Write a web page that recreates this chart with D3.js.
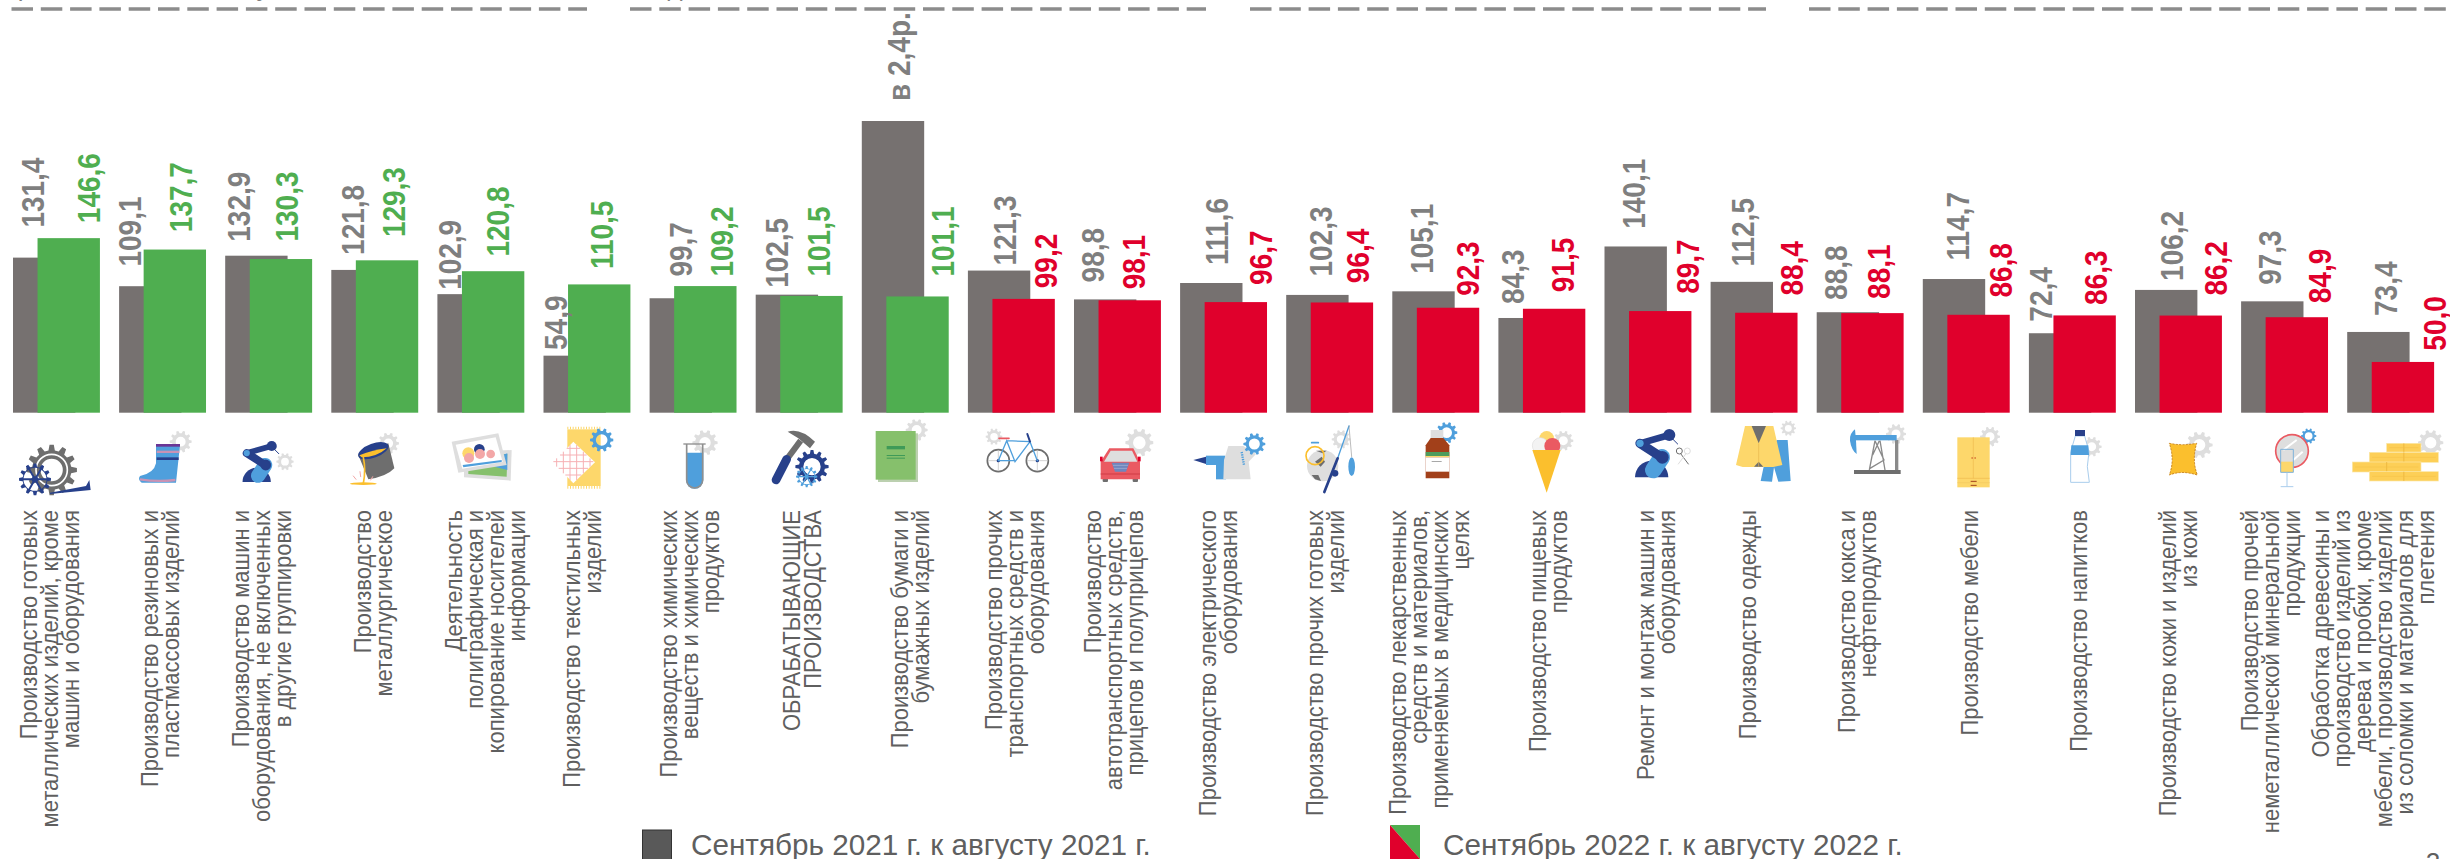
<!DOCTYPE html>
<html lang="ru">
<head>
<meta charset="utf-8">
<script src="https://cdn.jsdelivr.net/npm/d3@7"></script>
<style>
  html, body { margin: 0; padding: 0; background: #fff; overflow: hidden; }
  svg { display: block; font-family: "Liberation Sans", Arial, sans-serif; }
</style>
</head>
<body>
<div id="chart"></div>
<script>
// --- data ---
const categories = [
  ['Производство готовых', 'металлических изделий, кроме', 'машин и оборудования'],
  ['Производство резиновых и', 'пластмассовых изделий'],
  ['Производство машин и', 'оборудования, не включенных', 'в другие группировки'],
  ['Производство', 'металлургическое'],
  ['Деятельность', 'полиграфическая и', 'копирование носителей', 'информации'],
  ['Производство текстильных', 'изделий'],
  ['Производство химических', 'веществ и химических', 'продуктов'],
  ['ОБРАБАТЫВАЮЩИЕ', 'ПРОИЗВОДСТВА'],
  ['Производство бумаги и', 'бумажных изделий'],
  ['Производство прочих', 'транспортных средств и', 'оборудования'],
  ['Производство', 'автотранспортных средств,', 'прицепов и полуприцепов'],
  ['Производство электрического', 'оборудования'],
  ['Производство прочих готовых', 'изделий'],
  ['Производство лекарственных', 'средств и материалов,', 'применяемых в медицинских', 'целях'],
  ['Производство пищевых', 'продуктов'],
  ['Ремонт и монтаж машин и', 'оборудования'],
  ['Производство одежды'],
  ['Производство кокса и', 'нефтепродуктов'],
  ['Производство мебели'],
  ['Производство напитков'],
  ['Производство кожи и изделий', 'из кожи'],
  ['Производство прочей', 'неметаллической минеральной', 'продукции'],
  ['Обработка древесины и', 'производство изделий из', 'дерева и пробки, кроме', 'мебели, производство изделий', 'из соломки и материалов для', 'плетения']
];
const sep2021 = [131.4, 109.1, 132.9, 121.8, 102.9, 54.9, 99.7, 102.5, 238, 121.3, 98.8, 111.6, 102.3, 105.1, 84.3, 140.1, 112.5, 88.8, 114.7, 72.4, 106.2, 97.3, 73.4];
const sep2022 = [146.6, 137.7, 130.3, 129.3, 120.8, 110.5, 109.2, 101.5, 101.1, 99.2, 98.1, 96.7, 96.4, 92.3, 91.5, 89.7, 88.4, 88.1, 86.8, 86.3, 86.2, 84.9, 50.0];
const specialLabels = { 8: 'в 2,4р.' };
const legendLabels = ['Сентябрь 2021 г. к августу 2021 г.', 'Сентябрь 2022 г. к августу 2022 г.'];

// hand placed labels, as in the original: x from the start of the band, gap above the bar
const prevLabelDx  = [19.4, 10, 12.8, 20.7, 12.4, 11.9, 30.4, 21, 36.7, 36.7, 18, 36, 34.3, 29.2, 13.6, 28.5, 31.8, 18.8, 34.2, 11.7, 36, 27.9, 38.5];
const prevLabelGap = [30, 19.7, 14, 15, 4.3, 5.7, 21.7, 6.8, 20, 5, 17, 18, 18.4, 17.5, 14, 17.7, 15.3, 12.3, 18.5, 11.6, 9, 16.5, 16];
const currLabelDx  = [74.9, 61.3, 61.4, 62, 59.5, 58, 72.2, 63, 80.1, 77.5, 59.8, 80.3, 71.5, 75.2, 64.3, 83, 80.4, 61.7, 77.5, 66.6, 80.8, 78.2, 87.2];
const currLabelGap = [15, 17.4, 17.5, 23.2, 14.7, 15.3, 9.5, 19.4, 20, 10.7, 11, 17.2, 19.3, 11.9, 16.6, 17.2, 17.2, 14.2, 17.2, 10.5, 20, 14, 11.3];
const categoryDx   = [36.7, 40.4, 35.8, 42.1, 47.9, 38, 39.4, 45.8, 48.2, 46.7, 39, 37.4, 38.3, 37, 49.6, 51.6, 37, 40.3, 46.2, 49.8, 43, 29.6, 25.5];

const WIDTH = 2450, HEIGHT = 859;
const GRAY = '#767170', GREEN = '#4fae50', RED = '#e0002c';
const GRAY_TEXT = '#7f7f7f', LABEL_TEXT = '#5f5f5f';
const NAVY = '#27408b', BLUE = '#4f9fdc', LIGHT = '#dedede', DARK = '#6e6e6e';
const YELLOW = '#fdd76b', AMBER = '#fbbf2d', LEAF = '#86c06c', ROSE = '#ea5a62', BROWN = '#a2401a';

const svg = d3.select('#chart').append('svg').attr('width', WIDTH).attr('height', HEIGHT);

const x = d3.scaleBand().domain(d3.range(categories.length)).range([13, 2433.6]).paddingInner(0.1857).paddingOuter(0);
const y = d3.scaleLinear().domain([10.4, 238]).range([412.7, 121]);
const barW = x.bandwidth() * 0.722;
const shift = x.bandwidth() * 0.284;
const fmt = v => d3.format('.1f')(v).replace('.', ',');

// --- dashed header rules ---
const ruleSpans = [[11.5, 587], [630, 1206], [1250, 1766], [1809, 2450]];
svg.selectAll('.rule').data(ruleSpans).join('line').attr('class', 'rule')
  .attr('x1', d => d[0]).attr('x2', d => d[1]).attr('y1', 9).attr('y2', 9)
  .attr('stroke', '#8c8c8c').attr('stroke-width', 3.5).attr('stroke-dasharray', '21.5 7.8');

// descenders of the header text that is cut off by the page edge
svg.selectAll('.cut').data([[25, 'р'], [263, 'у'], [675, 'д']]).join('text').attr('class', 'cut')
  .attr('x', d => d[0]).attr('y', -4).attr('text-anchor', 'middle')
  .attr('font-size', 26).attr('fill', GRAY_TEXT).text(d => d[1]);

// --- bars ---
svg.selectAll('.prev').data(sep2021).join('rect').attr('class', 'prev')
  .attr('x', (d, i) => x(i)).attr('width', barW)
  .attr('y', d => y(d)).attr('height', d => y.range()[0] - y(d))
  .attr('fill', GRAY);

svg.selectAll('.curr').data(sep2022).join('rect').attr('class', 'curr')
  .attr('x', (d, i) => x(i) + shift).attr('width', barW)
  .attr('y', d => y(d)).attr('height', d => y.range()[0] - y(d))
  .attr('fill', d => d >= 100 ? GREEN : RED);

// --- value labels ---
function valueLabels(cls, values, dx, gap, color, text) {
  svg.selectAll('.' + cls).data(values).join('text').attr('class', cls)
    .attr('transform', (d, i) => `translate(${x(i) + dx[i]},${y(d) - gap[i]}) rotate(-90) scale(1,1.15)`)
    .attr('dy', '.36em')
    .attr('font-size', 28).attr('font-weight', 700)
    .attr('fill', color).text(text);
}
valueLabels('prev-label', sep2021, prevLabelDx, prevLabelGap, GRAY_TEXT, (d, i) => specialLabels[i] || fmt(d));
valueLabels('curr-label', sep2022, currLabelDx, currLabelGap, d => d >= 100 ? GREEN : RED, d => fmt(d));

// --- category labels ---
const cat = svg.selectAll('.cat').data(categories).join('g').attr('class', 'cat')
  .attr('transform', (d, i) => `translate(${x(i) + categoryDx[i]},510) rotate(-90) scale(1,1.08)`);
cat.selectAll('text').data(d => d.map((t, j) => ({ t, off: (j - (d.length - 1) / 2) * 19.45 }))).join('text')
  .attr('y', d => d.off).attr('dy', '.36em')
  .attr('text-anchor', 'end').attr('font-size', 22).attr('fill', LABEL_TEXT)
  .text(d => d.t);

// --- icons, drawn in 3x units, one layer per strip ---
function gear(g, cx, cy, r, color, hole = 0.45, teeth = 10) {
  const pts = [];
  for (let k = 0; k < teeth; k++) {
    const a = k / teeth * 2 * Math.PI, w = Math.PI / teeth;
    [[-0.62, 0.78], [-0.32, 1], [0.32, 1], [0.62, 0.78]].forEach(([t, rr]) => {
      const b = a + t * w;
      pts.push([cx + Math.cos(b) * r * rr, cy + Math.sin(b) * r * rr]);
    });
  }
  const h = r * hole;
  const d = 'M' + pts.map(p => p.join(',')).join('L') + 'Z'
    + `M${cx - h},${cy}a${h},${h} 0 1,0 ${2 * h},0a${h},${h} 0 1,0 ${-2 * h},0Z`;
  return g.append('path').attr('d', d).attr('fill', color).attr('fill-rule', 'evenodd');
}
const layer = off => svg.append('g').attr('transform', `translate(${off},420) scale(${1 / 3})`);
const rect = (g, a, b, w, h, fill, rx = 0) => g.append('rect').attr('x', a).attr('y', b).attr('width', w).attr('height', h).attr('fill', fill).attr('rx', rx);
const circ = (g, a, b, r, fill) => g.append('circle').attr('cx', a).attr('cy', b).attr('r', r).attr('fill', fill);
const path = (g, d, fill) => g.append('path').attr('d', d).attr('fill', fill);
const seg = (g, d, stroke, w, cap = 'round') => g.append('path').attr('d', d).attr('fill', 'none').attr('stroke', stroke).attr('stroke-width', w).attr('stroke-linecap', cap);

function spokedGear(g, cx, cy, r, color) {
  gear(g, cx, cy, r, color, 0.72, 12);
  d3.range(6).forEach(k => {
    const a = k * Math.PI / 3;
    seg(g, `M${cx},${cy}L${cx + Math.cos(a) * r * 0.75},${cy + Math.sin(a) * r * 0.75}`, color, r * 0.12);
  });
  circ(g, cx, cy, r * 0.2, color);
}
function robot(g, k, ox, oy) {
  const p = (a, b) => `${ox + a * k},${oy + b * k}`;
  path(g, `M${p(-50, 0)}A${50 * k},${50 * k} 0 0,1 ${p(50, 0)}Z`, NAVY);
  seg(g, `M${p(5, -22)}L${p(30, -60)}`, BLUE, 50 * k);
  circ(g, ox + 32 * k, oy - 60 * k, 19 * k, NAVY);
  seg(g, `M${p(-35, -102)}L${p(30, -60)}`, NAVY, 28 * k);
  seg(g, `M${p(-35, -102)}L${p(53, -127)}`, NAVY, 20 * k);
  circ(g, ox + 53 * k, oy - 127 * k, 18 * k, NAVY);
  circ(g, ox - 35 * k, oy - 102 * k, 11 * k, BLUE);
  seg(g, `M${p(63, -115)}L${p(78, -100)}`, NAVY, 3);
}

const s0 = layer(0), s1 = layer(520), s2 = layer(1040), s3 = layer(1560), s4 = layer(2080);

// metal products
gear(s0, 155, 150, 76, DARK, 0.44, 12);
s0.append('circle').attr('cx', 155).attr('cy', 150).attr('r', 47).attr('fill', 'none').attr('stroke', '#fff').attr('stroke-width', 5);
path(s0, 'M150,218L258,198L268,180L272,210L150,222Z', NAVY);
spokedGear(s0, 105, 178, 48, NAVY);
// boot
gear(s0, 542, 65, 33, LIGHT);
path(s0, 'M468,75L540,75L528,188L425,188Q412,178 420,168Q462,160 468,130Z', BLUE);
rect(s0, 468, 72, 72, 8, '#6a3595');
rect(s0, 470, 92, 68, 7, '#c993b5');
rect(s0, 470, 112, 66, 8, NAVY);
seg(s0, 'M420,178Q470,186 526,180', '#c993b5', 7, 'butt');
// robot arm
gear(s0, 855, 125, 26, LIGHT);
robot(s0, 0.85, 770, 186);
// bucket
gear(s0, 1165, 70, 32, LIGHT);
path(s0, 'M1075,105L1165,70L1183,145Q1160,170 1105,178Z', DARK);
s0.append('ellipse').attr('cx', 1120).attr('cy', 92).attr('rx', 48).attr('ry', 21).attr('transform', 'rotate(-20 1120 92)').attr('fill', NAVY);
path(s0, 'M1078,106Q1120,90 1160,85Q1130,112 1085,112Z', AMBER);
seg(s0, 'M1090,112Q1098,150 1090,190', AMBER, 5);
s0.append('ellipse').attr('cx', 1090).attr('cy', 191).attr('rx', 40).attr('ry', 4).attr('fill', AMBER);
seg(s0, 'M1060,168L1068,178M1080,155L1082,170M1118,170L1112,180', '#f3a7a7', 3);
// photos
path(s0, 'M1392,96L1535,90L1532,182L1392,172Z', LIGHT);
path(s0, 'M1405,110L1522,102L1520,170L1405,162Z', LEAF);
path(s0, 'M1440,130L1522,100L1522,150Z', BLUE);
path(s0, 'M1355,65L1495,40L1520,135L1375,158Z', LIGHT);
path(s0, 'M1367,74L1487,52L1508,126L1387,146Z', '#fff');
path(s0, 'M1390,142L1505,126L1505,120L1388,135Z', BLUE);
circ(s0, 1405, 100, 18, YELLOW);
circ(s0, 1407, 114, 15, '#f3a7a7');
circ(s0, 1438, 88, 16, NAVY);
circ(s0, 1440, 102, 15, '#f3a7a7');
circ(s0, 1472, 102, 13, '#f3a7a7');

// textile
rect(s1, 142, 28, 100, 170, YELLOW);
seg(s1, 'M142,24H242M142,202H242', YELLOW, 8, 'butt').attr('stroke-dasharray', '3 5');
path(s1, 'M100,127L160,65L225,127L160,190Z', '#fff');
d3.range(110, 220, 20).forEach(k => seg(s1, `M${k},${Math.abs(k - 160) + 65}V${190 - Math.abs(k - 160)}`, '#f6b0b4', 3, 'butt'));
d3.range(85, 180, 20).forEach(k => seg(s1, `M${160 - (127 - Math.abs(k - 127)) + 65},${k}H${160 + (127 - Math.abs(k - 127)) - 65}`, '#f6b0b4', 3, 'butt'));
gear(s1, 245, 60, 35, BLUE, 0.5);
// test tube
gear(s1, 555, 68, 38, LIGHT);
path(s1, 'M498,98H550V180A26,26 0 0,1 498,180Z', BLUE);
seg(s1, 'M500,72V180A24,24 0 0,0 548,180V72', '#8f8f8f', 5, 'butt');
seg(s1, 'M490,72H557', '#8f8f8f', 4, 'butt');
// hammer
path(s1, 'M803,35Q840,22 885,65L870,85L835,55Q815,42 803,35Z', DARK);
seg(s1, 'M842,62L800,118', DARK, 18, 'butt');
seg(s1, 'M800,118L768,180', NAVY, 26);
gear(s1, 876, 140, 50, NAVY, 0.52, 12);
s1.append('circle').attr('cx', 876).attr('cy', 140).attr('r', 30).attr('fill', 'none').attr('stroke', NAVY).attr('stroke-width', 4);
spokedGear(s1, 860, 170, 32, BLUE);
// book
gear(s1, 1190, 30, 33, LIGHT);
rect(s1, 1074, 40, 120, 146, '#bcd0b0');
rect(s1, 1067, 33, 120, 146, LEAF);
rect(s1, 1100, 78, 55, 10, '#3f9a58');
rect(s1, 1100, 105, 55, 3, '#3f9a58');
rect(s1, 1100, 113, 55, 3, '#3f9a58');
// bicycle
gear(s1, 1422, 50, 25, LIGHT);
[1435, 1552].forEach(cx => {
  s1.append('circle').attr('cx', cx).attr('cy', 122).attr('r', 33).attr('fill', 'none').attr('stroke', DARK).attr('stroke-width', 5);
  seg(s1, `M${cx - 30},122H${cx + 30}M${cx},92V152`, '#bdbdbd', 2);
  circ(s1, cx, 122, 5, NAVY);
});
seg(s1, 'M1435,122L1460,62L1485,125L1530,65L1460,62M1435,122H1485M1530,65L1552,122', BLUE, 4);
seg(s1, 'M1437,55H1467', ROSE, 5);
seg(s1, 'M1530,65L1522,42', NAVY, 6);

// car
gear(s2, 298, 68, 42, LIGHT);
rect(s2, 188, 170, 16, 16, DARK, 3);
rect(s2, 278, 170, 16, 16, DARK, 3);
path(s2, 'M182,125L208,85H280L300,125V178H182Z', ROSE);
path(s2, 'M192,125L212,92H276L292,125Z', LIGHT);
path(s2, 'M215,128H268L258,155H225Z', '#6f86bd');
seg(s2, 'M219,136H264M222,145H261', '#a9b8da', 2, 'butt');
rect(s2, 180, 110, 8, 14, '#e0002c');
rect(s2, 294, 110, 8, 14, '#e0002c');
seg(s2, 'M182,162H300', '#cf3a44', 3, 'butt');
// drill and kettle
path(s2, 'M460,120L498,110V132Z', NAVY);
rect(s2, 498, 107, 58, 28, BLUE);
rect(s2, 528, 135, 30, 43, BLUE);
path(s2, 'M565,78H610L648,102L626,125L632,178H550L552,120Z', LIGHT);
seg(s2, 'M605,96L612,135', BLUE, 7, 'butt').attr('stroke-dasharray', '4 3');
gear(s2, 643, 72, 33, BLUE, 0.5);
// sport
gear(s2, 903, 58, 28, LIGHT);
circ(s2, 848, 137, 47, LIGHT);
path(s2, 'M825,125L845,110L855,125L842,140Z', DARK);
path(s2, 'M815,165L835,165L843,183L825,178Z', DARK);
path(s2, 'M828,92L860,92L848,100Z', DARK);
s2.append('circle').attr('cx', 825).attr('cy', 107).attr('r', 27).attr('fill', 'none').attr('stroke', AMBER).attr('stroke-width', 5);
seg(s2, 'M815,68H835', BLUE, 5);
seg(s2, 'M927,18L893,115', BLUE, 4);
seg(s2, 'M893,115L853,216', NAVY, 8);
circ(s2, 885, 160, 10, NAVY);
seg(s2, 'M927,18L935,110', '#9a9a9a', 2);
s2.append('ellipse').attr('cx', 935).attr('cy', 140).attr('rx', 10).attr('ry', 28).attr('fill', BLUE);
// bottle of medicine
gear(s2, 1220, 38, 32, BLUE, 0.5);
rect(s2, 1172, 30, 38, 24, LIGHT);
path(s2, 'M1172,54H1210L1228,76V175H1157V76Z', BROWN);
rect(s2, 1157, 96, 71, 12, '#4e9c5c');
rect(s2, 1157, 108, 71, 4, YELLOW);
rect(s2, 1157, 112, 71, 43, '#fff');
rect(s2, 1175, 123, 30, 3, '#a8a8a8');
// ice cream
gear(s2, 1570, 62, 30, LIGHT);
circ(s2, 1520, 55, 22, YELLOW);
circ(s2, 1501, 77, 24, '#f3f3f3').attr('stroke', LIGHT).attr('stroke-width', 2);
circ(s2, 1537, 78, 24, ROSE);
path(s2, 'M1477,90H1562L1520,218Z', AMBER);

// repair robot
robot(s3, 1, 275, 172);
s3.append('circle').attr('cx', 358).attr('cy', 93).attr('r', 9).attr('fill', 'none').attr('stroke', DARK).attr('stroke-width', 3);
s3.append('circle').attr('cx', 382).attr('cy', 93).attr('r', 9).attr('fill', 'none').attr('stroke', LIGHT).attr('stroke-width', 3);
seg(s3, 'M362,101L385,132', DARK, 3);
seg(s3, 'M378,101L355,132', LIGHT, 3);
// clothes
gear(s3, 685, 25, 23, LIGHT);
path(s3, 'M650,60H683L692,183L655,185L642,142L636,185L602,183L612,135Z', BLUE);
path(s3, 'M555,18H640L667,135L640,141H548L528,135Z', YELLOW);
path(s3, 'M575,18H618L596,70Z', DARK);
path(s3, 'M582,140H610L596,125Z', DARK);
seg(s3, 'M596,70V140', '#e8b84e', 2, 'butt');
// oil pump
gear(s3, 1008, 42, 30, LIGHT);
rect(s3, 1005, 60, 10, 90, '#8a8a8a');
seg(s3, 'M928,150L945,62M975,150L960,62M945,62L972,120L930,145M958,62L938,105', '#8a8a8a', 4, 'butt');
rect(s3, 882, 150, 140, 12, DARK);
rect(s3, 885, 45, 125, 16, BLUE);
path(s3, 'M885,28Q868,40 870,62Q874,90 890,102L888,62L885,28Z', BLUE);
// cupboard
gear(s3, 1290, 50, 30, LIGHT);
rect(s3, 1192, 52, 97, 150, YELLOW);
seg(s3, 'M1240,52V175M1192,175H1289', '#eeb94f', 2, 'butt');
seg(s3, 'M1192,188H1289', '#f2c860', 2, 'butt');
seg(s3, 'M1232,184H1250M1232,196H1250', BROWN, 3, 'butt');
seg(s3, 'M1234,114H1239M1243,114H1248', '#d9783a', 4, 'butt');

// water bottle
gear(s4, 35, 80, 30, LIGHT);
path(s4, 'M-14,48H14L27,95L22,140L28,187H-28L-28,95Z', '#fff').attr('stroke', '#a9cdec').attr('stroke-width', 3);
path(s4, 'M-26,76H25L27,105H-28Z', BLUE);
rect(s4, -15, 30, 30, 18, NAVY);
// leather
gear(s4, 358, 75, 40, LIGHT);
path(s4, 'M268,70Q305,78 350,70Q335,120 352,165Q305,150 268,165Q285,120 268,70Z', AMBER)
  .attr('stroke', '#c8862a').attr('stroke-width', 3).attr('stroke-dasharray', '6 4');
// mirror and glass
gear(s4, 686, 48, 23, BLUE, 0.5);
s4.append('circle').attr('cx', 636).attr('cy', 93).attr('r', 49).attr('fill', LIGHT).attr('stroke', ROSE).attr('stroke-width', 5);
seg(s4, 'M610,90L650,60M640,120L668,95', '#fff', 6, 'butt');
rect(s4, 602, 125, 38, 32, YELLOW);
path(s4, 'M602,88H640V157H602Z', 'none').attr('stroke', '#7fb2da').attr('stroke-width', 3);
seg(s4, 'M621,158V200M602,200H640', '#a9cdec', 3, 'butt');
// planks
gear(s4, 1052, 68, 38, LIGHT);
[[920, 70, 103, 26], [868, 97, 207, 30], [817, 126, 206, 30], [868, 155, 207, 28]].forEach(([a, b, w, h]) => {
  rect(s4, a, b, w, h, '#fdcf57').attr('stroke', '#fbe7a8').attr('stroke-width', 2);
  seg(s4, `M${a + w / 2},${b}V${b + h}`, '#e8ad35', 2, 'butt');
  seg(s4, `M${a + 8},${b + h / 2}H${a + w - 8}`, '#f2bd45', 1.5, 'butt');
});

// --- legend ---
const legendFont = 29.7;
svg.append('rect').attr('x', 642.5).attr('y', 830).attr('width', 29).attr('height', 40)
  .attr('fill', '#595959').attr('stroke', '#333').attr('stroke-width', 1);
svg.append('text').attr('x', 691).attr('y', 855).attr('font-size', legendFont).attr('fill', LABEL_TEXT).text(legendLabels[0]);

svg.append('path').attr('d', 'M1390,825H1420V859Z').attr('fill', GREEN);
svg.append('path').attr('d', 'M1390,825V859H1420Z').attr('fill', RED);
svg.append('text').attr('x', 1443).attr('y', 855).attr('font-size', legendFont).attr('fill', LABEL_TEXT).text(legendLabels[1]);

// page number, cut off by the bottom edge
svg.append('text').attr('x', 2433).attr('y', 871).attr('text-anchor', 'middle').attr('font-size', 26).attr('fill', LABEL_TEXT).text('2');
</script>
</body>
</html>
